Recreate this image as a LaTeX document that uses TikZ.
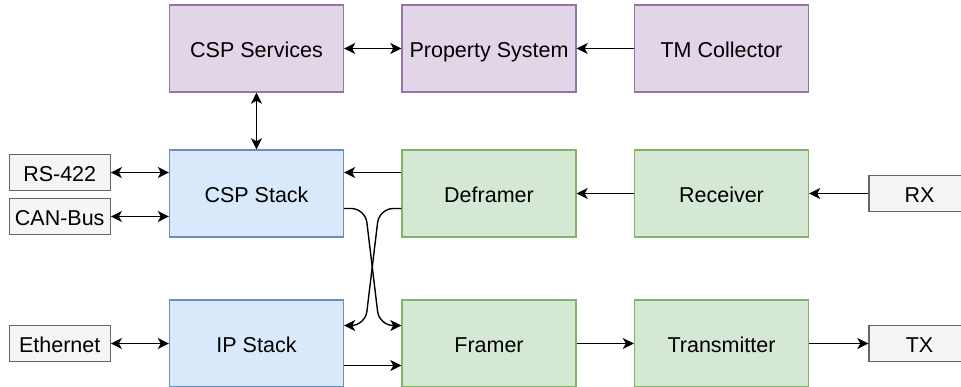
\documentclass[tikz,border=0pt]{standalone}
\usepackage{fontspec}
\setmainfont{Liberation Sans}
\usetikzlibrary{arrows.meta}
\definecolor{cpurple}{rgb}{0.882, 0.835, 0.906}
\definecolor{cpurpled}{rgb}{0.588, 0.451, 0.651}
\definecolor{cblue}{rgb}{0.855, 0.910, 0.988}
\definecolor{cblued}{rgb}{0.424, 0.557, 0.749}
\definecolor{cgreen}{rgb}{0.835, 0.910, 0.831}
\definecolor{cgreend}{rgb}{0.510, 0.702, 0.400}
\definecolor{cgray}{rgb}{0.961, 0.961, 0.961}
\definecolor{cgrayd}{rgb}{0.4, 0.4, 0.4}

\tikzset{
    block/.style={draw, line width=1.4pt, minimum width=174pt, minimum height=87pt,
        inner sep=0pt, text height=17.4pt, text depth=0pt, font=\fontsize{21.5}{26}\selectfont},
    svcbox/.style={block, fill=cpurple, draw=cpurpled},
    stackbox/.style={block, fill=cblue, draw=cblued},
    linkbox/.style={block, fill=cgreen, draw=cgreend},
    portbox/.style={block, fill=cgray, draw=cgrayd, minimum width=101pt, minimum height=36.5pt},
    link/.style={line width=1.4pt, >={Stealth[length=11pt, width=11pt, inset=3pt]}}
}

\begin{document}
\begin{tikzpicture}[x=1pt, y=-1pt]

\draw[draw=none, use as bounding box] (0, 0) rectangle (961, 387);

\node [svcbox] (services) at (256.5, 48.5) {CSP Services};
\node [svcbox] (property) at (489, 48.5) {Property System};
\node [svcbox] (tmcollect) at (721.5, 48.5) {TM Collector};

\node [stackbox] (cspstack) at (256.5, 193.5) {CSP Stack};
\node [linkbox] (deframer) at (489, 193.5) {Deframer};
\node [linkbox] (receiver) at (721.5, 193.5) {Receiver};

\node [stackbox] (ipstack) at (256.5, 343.5) {IP Stack};
\node [linkbox] (framer) at (489, 343.5) {Framer};
\node [linkbox] (transmitter) at (721.5, 343.5) {Transmitter};

\node [portbox] (rs422) at (59.7, 172.5) {RS-422};
\node [portbox] (canbus) at (59.7, 216.5) {CAN-Bus};
\node [portbox] (ethernet) at (59.7, 343.5) {Ethernet};
\node [portbox] (rx) at (919.5, 193.5) {RX};
\node [portbox] (tx) at (919.5, 343.5) {TX};

\draw [link, <->] (services) -- (property);
\draw [link, <-] (property) -- (tmcollect);
\draw [link, <->] (services) -- (cspstack);

\draw [link, <->] (rs422) -- (rs422 -| cspstack.west);
\draw [link, <->] (canbus) -- (canbus -| cspstack.west);
\draw [link, <->] (ethernet) -- (ethernet -| ipstack.west);

\draw [link, <-] ([yshift=21pt]cspstack.east) -- ([yshift=21pt]cspstack.east -| deframer.west);
\draw [link, <-] (deframer) -- (receiver);
\draw [link, <-] (receiver) -- (receiver -| rx.west);

\draw [link, ->] ([yshift=-22pt]ipstack.east) -- ([yshift=-22pt]ipstack.east -| framer.west);
\draw [link, ->] (framer) -- (transmitter);
\draw [link, ->] (transmitter) -- (transmitter -| tx.west);

\draw [link, ->, rounded corners=14pt] ([yshift=-15pt]cspstack.east) -- ++(21, 0)
    -- ([xshift=-22pt, yshift=18pt]framer.west) -- ([yshift=18pt]framer.west);
\draw [link, ->, rounded corners=14pt] ([yshift=-15pt]deframer.west) -- ++(-22, 0)
    -- ([xshift=21pt, yshift=18pt]ipstack.east) -- ([yshift=18pt]ipstack.east);
\end{tikzpicture}
\end{document}
